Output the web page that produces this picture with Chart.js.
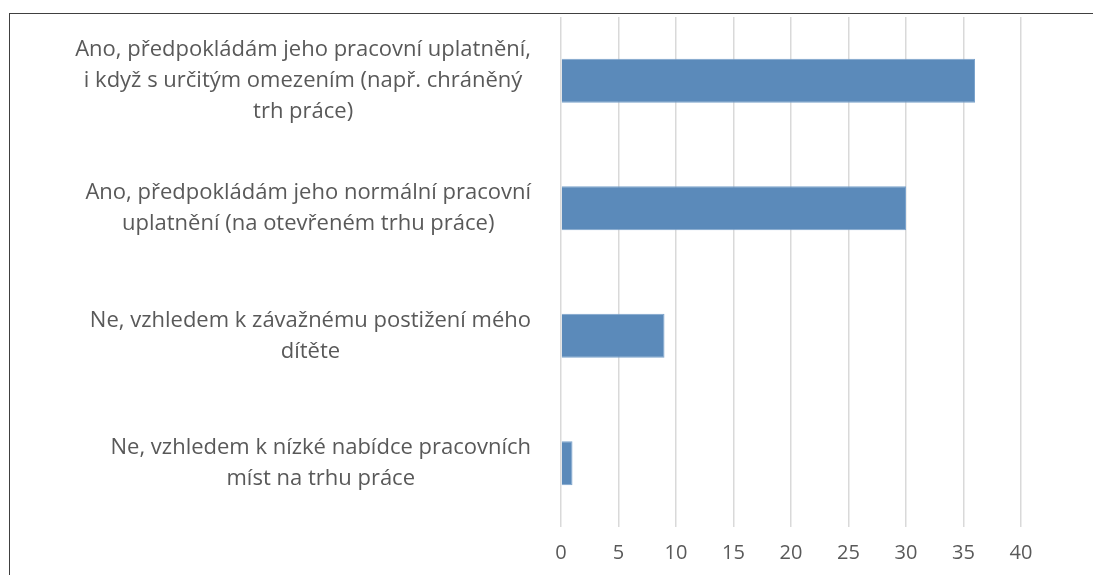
<!DOCTYPE html>
<html lang="cs">
<head>
<meta charset="utf-8">
<title>Pracovní uplatnění dítěte</title>
<script src="https://cdn.jsdelivr.net/npm/chart.js@4.4.1/dist/chart.umd.min.js"></script>
<style>
  html, body { margin: 0; padding: 0; background: #ffffff; }
  #wrap { position: relative; width: 1093px; height: 575px; overflow: hidden; }
  #frame {
    position: absolute; left: 9px; top: 13px; width: 1200px; height: 700px;
    border-left: 1px solid #404040; border-top: 1px solid #404040;
  }
  #answersChart { position: absolute; left: 0; top: 0; }
</style>
</head>
<body>
<div id="wrap">
  <div id="frame"></div>
  <canvas id="answersChart" width="1093" height="579"></canvas>
</div>
<script>
// answer categories (one array per label, each entry is one line)
const categories = [
    ['Ano, předpokládám jeho pracovní uplatnění,', 'i když s určitým omezením (např. chráněný', 'trh práce)'],
    ['Ano, předpokládám jeho normální pracovní', 'uplatnění (na otevřeném trhu práce)'],
    ['Ne, vzhledem k závažnému postižení mého', 'dítěte'],
    ['Ne, vzhledem k nízké nabídce pracovních', 'míst na trhu práce']
];
// number of respondents per answer
const counts = [36, 30, 9, 1];
// x axis range
const axisMin = 0;
const axisMax = 40;
const axisStep = 5;

const FONT = '"Open Sans", Lato, sans-serif';
const TEXT_COLOR = '#595959';

// draws the wrapped category labels, each block right aligned, lines centred
const categoryLabels = {
    id: 'categoryLabels',
    afterDraw(chart) {
        const ctx = chart.ctx;
        const yScale = chart.scales.y;
        const rightEdge = chart.chartArea.left - 30;
        const lineHeight = 31;
        ctx.save();
        ctx.font = '22px ' + FONT;
        ctx.fillStyle = TEXT_COLOR;
        ctx.textAlign = 'center';
        ctx.textBaseline = 'middle';
        categories.forEach((lines, i) => {
            const y = yScale.getPixelForTick(i);
            const widest = Math.max(...lines.map(l => ctx.measureText(l).width));
            const cx = rightEdge - widest / 2;
            const top = y - (lines.length - 1) * lineHeight / 2;
            lines.forEach((line, j) => ctx.fillText(line, cx, top + j * lineHeight));
        });
        ctx.restore();
    }
};

const ctx = document.getElementById('answersChart').getContext('2d');

new Chart(ctx, {
    type: 'bar',
    data: {
        labels: categories,
        datasets: [{
            data: counts,
            backgroundColor: '#5b8aba',
            borderColor: '#7ba3cc',
            borderWidth: 1,
            categoryPercentage: 1,
            barPercentage: 0.345
        }]
    },
    options: {
        indexAxis: 'y',
        responsive: false,
        animation: false,
        layout: {
            padding: { left: 561, right: 72, top: 17, bottom: 0 }
        },
        plugins: {
            legend: { display: false },
            tooltip: { enabled: false }
        },
        scales: {
            x: {
                min: axisMin,
                max: axisMax,
                ticks: {
                    stepSize: axisStep,
                    color: TEXT_COLOR,
                    font: { family: FONT, size: 20 },
                    padding: 14
                },
                grid: {
                    color: '#d9d9d9',
                    lineWidth: 1.5,
                    drawTicks: false
                },
                border: { display: false }
            },
            y: {
                display: false
            }
        }
    },
    plugins: [categoryLabels]
});
</script>
</body>
</html>
